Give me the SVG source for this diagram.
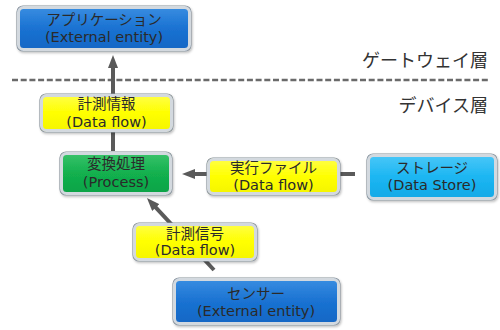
<svg xmlns="http://www.w3.org/2000/svg" width="500" height="330" viewBox="0 0 500 330">
  <defs>
    <linearGradient id="gBlue" x1="0" y1="0" x2="0" y2="1">
      <stop offset="0" stop-color="#3b8fe2"/>
      <stop offset="0.5" stop-color="#1a72d2"/>
      <stop offset="1" stop-color="#1266c4"/>
    </linearGradient>
    <linearGradient id="gCyan" x1="0" y1="0" x2="0" y2="1">
      <stop offset="0" stop-color="#4cc8f8"/>
      <stop offset="0.5" stop-color="#1cb6f2"/>
      <stop offset="1" stop-color="#12a8e6"/>
    </linearGradient>
    <linearGradient id="gGreen" x1="0" y1="0" x2="0" y2="1">
      <stop offset="0" stop-color="#3cc46c"/>
      <stop offset="0.5" stop-color="#12b04e"/>
      <stop offset="1" stop-color="#0ea246"/>
    </linearGradient>
    <linearGradient id="gYellow" x1="0" y1="0" x2="0" y2="1">
      <stop offset="0" stop-color="#ffff4a"/>
      <stop offset="0.5" stop-color="#ffff00"/>
      <stop offset="1" stop-color="#f4f400"/>
    </linearGradient>
    <marker id="arrow" viewBox="0 0 13 10" markerWidth="13" markerHeight="10" refX="5" refY="5" orient="auto" markerUnits="userSpaceOnUse">
      <path d="M0,0 L13,5 L0,10 z" fill="#5a5a5a"/>
    </marker>
    <filter id="shadow" x="-10%" y="-10%" width="120%" height="130%">
      <feDropShadow dx="1" dy="1.5" stdDeviation="1" flood-color="#000" flood-opacity="0.25"/>
    </filter>
  </defs>
  <style>
    .box { stroke: #8a939c; stroke-width: 1.2; filter: url(#shadow); }
    .rim { fill: none; stroke: #d3d9df; stroke-width: 3; }
    .jp { font-family: "Noto Sans CJK JP", sans-serif; font-size: 14.5px; fill: #2a2a2a; text-anchor: middle; }
    .en { font-family: "DejaVu Sans", sans-serif; font-size: 14.5px; fill: #2a2a2a; text-anchor: middle; }
    .layer { font-family: "Noto Sans CJK JP", sans-serif; font-size: 18px; fill: #333; text-anchor: end; }
    .flow { stroke: #5a5a5a; stroke-width: 4; fill: none; }
  </style>

  <rect width="500" height="330" fill="#fff"/>

  <!-- layer boundary -->
  <line x1="12" y1="80" x2="490" y2="80" stroke="#6a6a6a" stroke-width="2.5" stroke-dasharray="6 2.7"/>
  <text class="layer" x="488" y="67">ゲートウェイ層</text>
  <text class="layer" x="488" y="112">デバイス層</text>

  <!-- connectors -->
  <g id="connectors">
    <line class="flow" x1="113" y1="151" x2="113" y2="63" marker-end="url(#arrow)"/>
    <line class="flow" x1="355" y1="174" x2="190" y2="174" marker-end="url(#arrow)"/>
    <line class="flow" x1="214" y1="270" x2="152.4" y2="203.9" marker-end="url(#arrow)"/>
  </g>

  <g id="application">
    <rect class="box" x="17" y="6" width="174" height="45" rx="6" fill="url(#gBlue)"/>
    <rect class="rim" x="18.5" y="7.5" width="171" height="42" rx="5"/>
    <text class="jp" x="104" y="25">アプリケーション</text>
    <text class="en" x="104" y="42">(External entity)</text>
  </g>

  <g id="measurement-info">
    <rect class="box" x="40" y="94" width="133" height="38" rx="6" fill="url(#gYellow)"/>
    <rect class="rim" x="41.5" y="95.5" width="130" height="35" rx="5"/>
    <text class="jp" x="106.5" y="109">計測情報</text>
    <text class="en" x="106.5" y="127">(Data flow)</text>
  </g>

  <g id="conversion">
    <rect class="box" x="60" y="152" width="112" height="43" rx="6" fill="url(#gGreen)"/>
    <rect class="rim" x="61.5" y="153.5" width="109" height="40" rx="5"/>
    <text class="jp" x="116" y="169">変換処理</text>
    <text class="en" x="116" y="187">(Process)</text>
  </g>

  <g id="exec-file">
    <rect class="box" x="207" y="158" width="133" height="37" rx="6" fill="url(#gYellow)"/>
    <rect class="rim" x="208.5" y="159.5" width="130" height="34" rx="5"/>
    <text class="jp" x="273.5" y="173">実行ファイル</text>
    <text class="en" x="273.5" y="190">(Data flow)</text>
  </g>

  <g id="storage">
    <rect class="box" x="367" y="154" width="130" height="46" rx="6" fill="url(#gCyan)"/>
    <rect class="rim" x="368.5" y="155.5" width="127" height="43" rx="5"/>
    <text class="jp" x="432" y="173">ストレージ</text>
    <text class="en" x="432" y="190">(Data Store)</text>
  </g>

  <g id="measurement-signal">
    <rect class="box" x="133" y="223" width="124" height="38" rx="6" fill="url(#gYellow)"/>
    <rect class="rim" x="134.5" y="224.5" width="121" height="35" rx="5"/>
    <text class="jp" x="195" y="239">計測信号</text>
    <text class="en" x="195" y="255">(Data flow)</text>
  </g>

  <g id="sensor">
    <rect class="box" x="173" y="278" width="167" height="47" rx="6" fill="url(#gBlue)"/>
    <rect class="rim" x="174.5" y="279.5" width="164" height="44" rx="5"/>
    <text class="jp" x="256" y="299">センサー</text>
    <text class="en" x="256" y="316">(External entity)</text>
  </g>
</svg>
